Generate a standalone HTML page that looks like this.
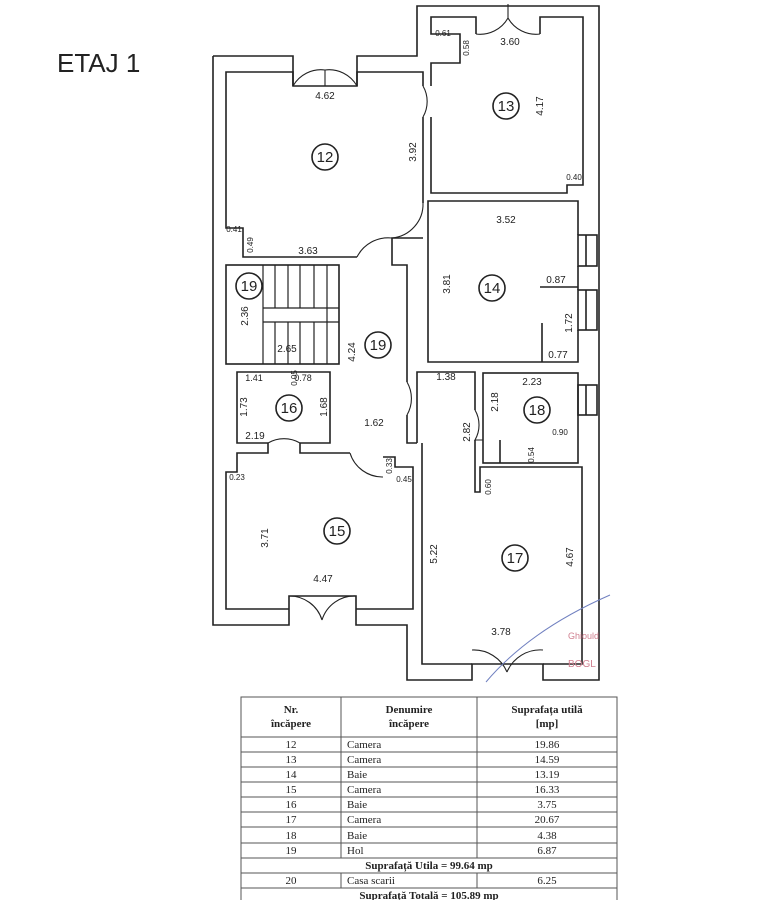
<!DOCTYPE html>
<html><head><meta charset="utf-8"><style>
html,body{margin:0;padding:0;background:#fff;width:763px;height:900px;overflow:hidden}
svg{position:absolute;left:0;top:0}
</style></head><body>
<svg width="763" height="900" viewBox="0 0 763 900" xmlns="http://www.w3.org/2000/svg" font-family="Liberation Sans, sans-serif">
<rect width="763" height="900" fill="#fff"/>
<text x="57" y="72" font-size="26" fill="#222">ETAJ 1</text>
<g fill="none" stroke="#222" stroke-width="1.6">
<polyline points="213,56 293,56 293,86 357,86 357,56 417,56 417,6 599,6 599,680 543,680 543,664 472,664 472,680 407,680 407,625 356,625 356,596 289,596 289,625 213,625 213,56"/>
<polyline points="293,86 293,72 226,72 226,228 243,228 243,257 357,257"/>
<polyline points="357,86 357,72 423,72 423,86"/>
<polyline points="423,117 423,203"/>
<polyline points="392,257 392,238 423,238"/>
<polyline points="431,86 431,63 460,63 460,34 431,34 431,17 476,17 476,34"/>
<polyline points="540,34 540,17 583,17 583,185 567,185 567,193 431,193 431,117"/>
<polyline points="428,237 428,201 578,201 578,235"/>
<polyline points="578,266 578,290"/>
<polyline points="578,330 578,362 428,362 428,237"/>
<rect x="578" y="235" width="19" height="31"/>
<rect x="578" y="290" width="19" height="40"/>
<line x1="586" y1="235" x2="586" y2="266"/><line x1="586" y1="290" x2="586" y2="330"/>
<polyline points="540,287 578,287"/>
<polyline points="542,323 542,362"/>
<rect x="226" y="265" width="113" height="99"/>
<g stroke-width="1.2">
<line x1="263" y1="265" x2="263" y2="364"/><line x1="275" y1="265" x2="275" y2="308"/><line x1="288" y1="265" x2="288" y2="308"/><line x1="300" y1="265" x2="300" y2="308"/><line x1="314" y1="265" x2="314" y2="308"/><line x1="327" y1="265" x2="327" y2="364"/>
<line x1="263" y1="308" x2="339" y2="308"/><line x1="263" y1="322" x2="339" y2="322"/>
<line x1="275" y1="322" x2="275" y2="364"/><line x1="288" y1="322" x2="288" y2="364"/><line x1="300" y1="322" x2="300" y2="364"/><line x1="314" y1="322" x2="314" y2="364"/>
</g>
<polyline points="392,257 392,265 407,265 407,382"/>
<polyline points="407,415 407,443 417,443"/>
<polyline points="268,443 237,443 237,372 330,372 330,443 300,443"/>
<polyline points="300,443 300,453 350,453"/>
<polyline points="268,443 268,453 237,453 237,472 226,472 226,609 289,609"/>
<polyline points="356,609 413,609 413,467 395,467 395,457 383,457"/>
<polyline points="417,443 417,372 475,372 475,410"/>
<polyline points="475,440 475,492 480,492 480,467 582,467 582,664 543,664"/>
<polyline points="472,664 422,664 422,443"/>
<rect x="483" y="373" width="95" height="90"/>
<rect x="578" y="385" width="19" height="30"/>
<line x1="586" y1="385" x2="586" y2="415"/>
<line x1="500" y1="440" x2="500" y2="463"/>
<path d="M293,86 L325,86 M357,86 L325,86 M325,86 L325,70 M293,86 A32,32 0 0 1 325,70 M357,86 A32,32 0 0 0 325,70" stroke-width="1.1"/>
<path d="M476,34 A32,32 0 0 0 508,18 M540,34 A32,32 0 0 1 508,18 M508,18 L508,4" stroke-width="1.1"/>
<path d="M289,596 A34,34 0 0 1 322,620 M356,596 A34,34 0 0 0 322,620" stroke-width="1.1"/>
<path d="M472,650 A36,36 0 0 1 507,672 M543,650 A36,36 0 0 0 507,672" stroke-width="1.1"/>
<path d="M423,86 A31,31 0 0 1 423,117" stroke-width="1.1"/>
<path d="M423,203 A34,34 0 0 1 392,238" stroke-width="1.1"/>
<path d="M357,257 A35,35 0 0 1 392,238" stroke-width="1.1"/>
<path d="M268,443 A32,32 0 0 1 300,443" stroke-width="1.1"/>
<path d="M350,453 A34,34 0 0 0 383,477" stroke-width="1.1"/>
<path d="M407,382 A33,33 0 0 1 407,415" stroke-width="1.1"/>
<path d="M475,410 A30,30 0 0 1 475,440 L483,440" stroke-width="1.1"/>
<circle cx="325" cy="157" r="13"/><circle cx="506" cy="106" r="13"/><circle cx="492" cy="288" r="13"/>
<circle cx="249" cy="286" r="13"/><circle cx="378" cy="345" r="13"/><circle cx="289" cy="408" r="13"/>
<circle cx="537" cy="410" r="13"/><circle cx="337" cy="531" r="13"/><circle cx="515" cy="558" r="13"/>
</g>
<path d="M486,682 Q530,630 610,595" fill="none" stroke="#7080c0" stroke-width="1"/>
<g font-size="15" fill="#222" text-anchor="middle">
<text x="325" y="162">12</text><text x="506" y="111">13</text><text x="492" y="293">14</text>
<text x="249" y="291">19</text><text x="378" y="350">19</text><text x="289" y="413">16</text>
<text x="537" y="415">18</text><text x="337" y="536">15</text><text x="515" y="563">17</text>
</g>
<g font-size="10" fill="#222" text-anchor="middle">
<text x="325" y="99">4.62</text><text x="510" y="45">3.60</text><text x="308" y="254">3.63</text>
<text x="506" y="223">3.52</text><text x="556" y="283">0.87</text><text x="558" y="358">0.77</text>
<text x="287" y="352">2.65</text><text x="374" y="426">1.62</text><text x="446" y="380">1.38</text>
<text x="532" y="385">2.23</text><text x="255" y="439">2.19</text><text x="323" y="582">4.47</text>
<text x="501" y="635">3.78</text>
<text x="254" y="381" font-size="9">1.41</text><text x="303" y="381" font-size="9">0.78</text>
<g font-size="8"><text x="443" y="36">0.61</text><text x="574" y="180">0.40</text><text x="234" y="232">0.41</text>
<text x="560" y="435">0.90</text><text x="237" y="480">0.23</text><text x="404" y="482">0.45</text></g>
<text transform="translate(416,152) rotate(-90)">3.92</text>
<text transform="translate(543,106) rotate(-90)">4.17</text>
<text transform="translate(450,284) rotate(-90)">3.81</text>
<text transform="translate(572,323) rotate(-90)">1.72</text>
<text transform="translate(248,316) rotate(-90)">2.36</text>
<text transform="translate(355,352) rotate(-90)">4.24</text>
<text transform="translate(247,407) rotate(-90)">1.73</text>
<text transform="translate(327,407) rotate(-90)">1.68</text>
<text transform="translate(498,402) rotate(-90)">2.18</text>
<text transform="translate(470,432) rotate(-90)">2.82</text>
<text transform="translate(437,554) rotate(-90)">5.22</text>
<text transform="translate(573,557) rotate(-90)">4.67</text>
<text transform="translate(268,538) rotate(-90)">3.71</text>
<g font-size="8"><text transform="translate(469,48) rotate(-90)">0.58</text>
<text transform="translate(253,245) rotate(-90)">0.49</text>
<text transform="translate(297,378) rotate(-90)">0.05</text>
<text transform="translate(392,466) rotate(-90)">0.33</text>
<text transform="translate(534,455) rotate(-90)">0.54</text>
<text transform="translate(491,487) rotate(-90)">0.60</text></g>
</g>
<text x="568" y="639" font-size="9" fill="#d08090">Ghiould</text>
<text x="568" y="667" font-size="10" fill="#d08090">BOGL</text>
<g stroke="#555" stroke-width="1" fill="none">
<rect x="241" y="697" width="376" height="210"/>
<line x1="341" y1="697" x2="341" y2="858"/><line x1="477" y1="697" x2="477" y2="858"/>
<line x1="341" y1="873" x2="341" y2="888"/><line x1="477" y1="873" x2="477" y2="888"/>
<line x1="241" y1="737" x2="617" y2="737"/><line x1="241" y1="752" x2="617" y2="752"/>
<line x1="241" y1="767" x2="617" y2="767"/><line x1="241" y1="782" x2="617" y2="782"/>
<line x1="241" y1="797" x2="617" y2="797"/><line x1="241" y1="812" x2="617" y2="812"/>
<line x1="241" y1="827" x2="617" y2="827"/><line x1="241" y1="843" x2="617" y2="843"/>
<line x1="241" y1="858" x2="617" y2="858"/><line x1="241" y1="873" x2="617" y2="873"/>
<line x1="241" y1="888" x2="617" y2="888"/>
</g>
<g font-family="Liberation Serif, serif" font-size="11" fill="#222">
<g font-weight="bold" text-anchor="middle">
<text x="291" y="713">Nr.</text><text x="291" y="727">încăpere</text>
<text x="409" y="713">Denumire</text><text x="409" y="727">încăpere</text>
<text x="547" y="713">Suprafața utilă</text><text x="547" y="727">[mp]</text>
<text x="429" y="869">Suprafață Utila =  99.64 mp</text>
<text x="429" y="899">Suprafață Totală =  105.89 mp</text>
</g>
<g text-anchor="middle">
<text x="291" y="748">12</text><text x="291" y="763">13</text><text x="291" y="778">14</text><text x="291" y="793">15</text>
<text x="291" y="808">16</text><text x="291" y="823">17</text><text x="291" y="839">18</text><text x="291" y="854">19</text>
<text x="291" y="884">20</text>
<text x="547" y="748">19.86</text><text x="547" y="763">14.59</text><text x="547" y="778">13.19</text><text x="547" y="793">16.33</text>
<text x="547" y="808">3.75</text><text x="547" y="823">20.67</text><text x="547" y="839">4.38</text><text x="547" y="854">6.87</text>
<text x="547" y="884">6.25</text>
</g>
<text x="347" y="748">Camera</text><text x="347" y="763">Camera</text><text x="347" y="778">Baie</text><text x="347" y="793">Camera</text>
<text x="347" y="808">Baie</text><text x="347" y="823">Camera</text><text x="347" y="839">Baie</text><text x="347" y="854">Hol</text>
<text x="347" y="884">Casa scarii</text>
</g>
</svg>
</body></html>
